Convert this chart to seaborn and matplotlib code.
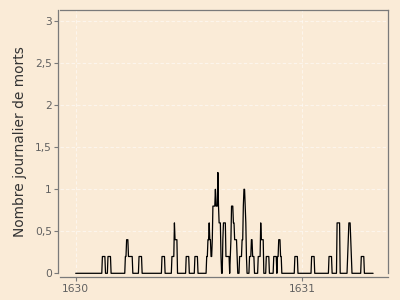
import numpy as np
import pandas as pd
import matplotlib
matplotlib.use("Agg")
import matplotlib.pyplot as plt
import seaborn as sns
from matplotlib.ticker import FuncFormatter, FixedLocator

# ---- data: deaths (day offset from 1630-01-01, count) ----
death_days = [43, 52, 80, 82, 87, 102, 139, 155, 159, 178, 192,
              211, 213, 215, 220, 221, 225, 226, 229, 230,
              237, 238, 243, 249, 250, 251, 255, 256,
              264, 268, 269, 270, 271, 280, 283, 294, 298, 307,
              319, 325, 327, 353, 380, 408, 421, 438, 439, 440, 460]
death_counts = [1, 1, 1, 1, 1, 1, 1, 1, 2, 1, 1,
                1, 1, 1, 2, 2, 3, 1, 2, 1,
                2, 1, 1, 1, 1, 2, 1, 1,
                1, 1, 1, 2, 1, 1, 1, 1, 2, 1,
                1, 1, 1, 1, 1, 1, 3, 1, 1, 1, 1]
n_days = 480
start_year = 1630
window = 5
x_ticks = [1630, 1631]
y_ticks = [0, 0.5, 1, 1.5, 2, 2.5, 3]
y_label = "Nombre journalier de morts"

daily = np.zeros(n_days)
np.add.at(daily, death_days, death_counts)
smoothed = pd.Series(daily).rolling(window, min_periods=1).mean()
years = start_year + np.arange(n_days) / 365.0
df = pd.DataFrame({"annee": years, "morts": smoothed.values})

bg = "#FAEBD7"
spine_c = "#7a7a7a"

sns.set_theme(style="white")
plt.rcParams["font.family"] = ["DejaVu Sans"]

fig = plt.figure(figsize=(4, 3), dpi=100, facecolor=bg)
ax = fig.add_axes([0.15, 0.089, 0.8208, 0.8767])
ax.set_facecolor(bg)

sns.lineplot(data=df, x="annee", y="morts", color="black", linewidth=0.9, ax=ax)
for ln in ax.get_lines():
    ln.set_clip_on(False)

ax.set_xlim(1629.9307, 1631.3795)
ax.set_ylim(0, 3.131)
ax.xaxis.set_major_locator(FixedLocator(x_ticks))
ax.yaxis.set_major_locator(FixedLocator(y_ticks))
ax.xaxis.set_major_formatter(FuncFormatter(lambda v, p: f"{v:.0f}"))
ax.yaxis.set_major_formatter(FuncFormatter(lambda v, p: f"{v:g}".replace(".", ",")))

ax.grid(True, linestyle=(0, (3, 2)), color="white", alpha=0.55, linewidth=0.8)
ax.set_axisbelow(True)

for s in ax.spines.values():
    s.set_visible(True)
    s.set_color(spine_c)
    s.set_linewidth(0.9)
ax.spines["left"].set_position(("outward", 1.3))
ax.spines["bottom"].set_position(("outward", 2.4))

ax.tick_params(axis="both", which="major", length=2.6, width=0.8, color=spine_c,
               labelsize=7.7, labelcolor="#606060", direction="out",
               bottom=True, left=True, top=False, right=False)
ax.tick_params(axis="y", pad=2.0)
ax.tick_params(axis="x", pad=3.0)

ax.set_xlabel("")
ax.set_ylabel(y_label, fontsize=9.9, color="#333333")
ax.yaxis.set_label_coords(-0.10, 0.5)

fig.savefig("out.png", dpi=100, facecolor=bg)
